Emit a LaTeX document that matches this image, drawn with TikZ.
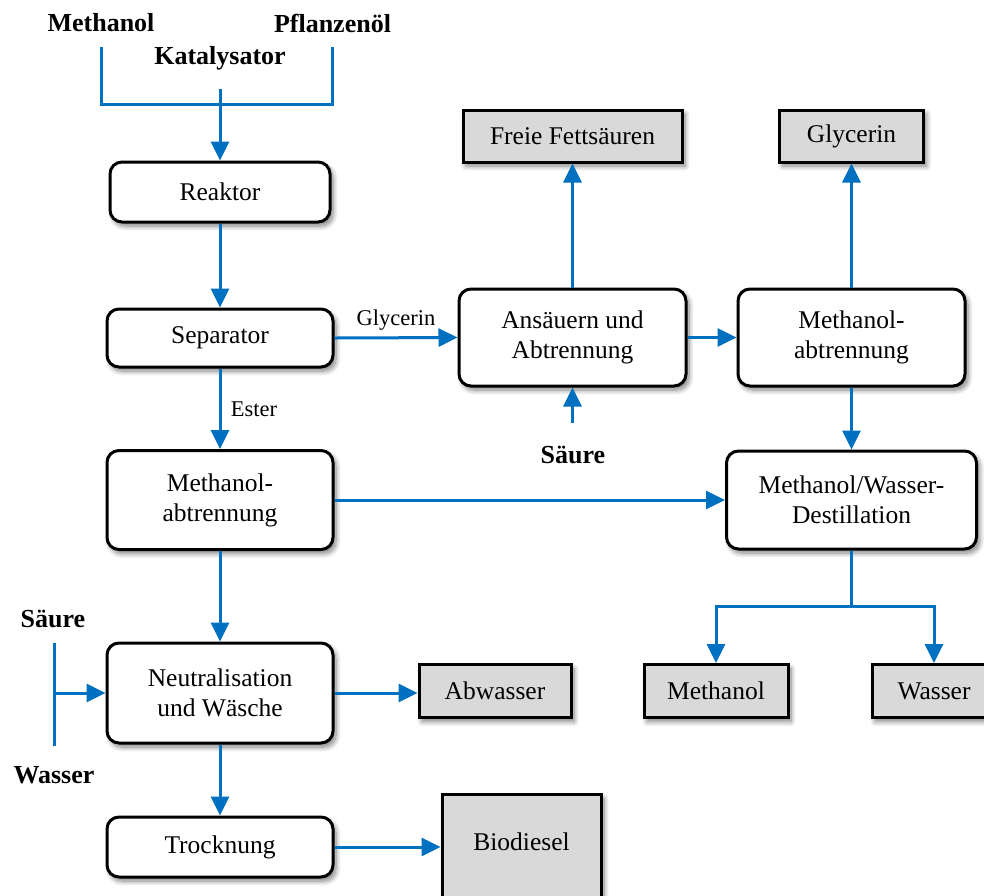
\documentclass[tikz,border=0pt]{standalone}
\usepackage{fontspec}
\setmainfont{Liberation Serif}
\usetikzlibrary{arrows.meta,shadows.blur,calc}
\definecolor{flow}{HTML}{0070C0}
\definecolor{prodgray}{HTML}{D9D9D9}
\begin{document}
\begin{tikzpicture}[x=1pt,y=-1pt,
  boxtext/.style={font=\fontsize{25.5}{30}\selectfont},
  procbox/.style={boxtext,draw=black,line width=3pt,rounded corners=12pt,fill=white,
    align=center,inner sep=0pt,
    blur shadow={shadow xshift=3pt,shadow yshift=-4pt,shadow blur radius=5pt,shadow blur steps=8,shadow opacity=50}},
  prodbox/.style={boxtext,draw=black,line width=3pt,fill=prodgray,align=center,inner sep=0pt,
    blur shadow={shadow xshift=3pt,shadow yshift=-4pt,shadow blur radius=5pt,shadow blur steps=8,shadow opacity=50}},
  feed/.style={font=\fontsize{26}{30}\selectfont\bfseries},
  flowlabel/.style={font=\fontsize{22.5}{26}\selectfont},
  flowline/.style={draw=flow,line width=3pt},
  flowarrow/.style={flowline,-{Triangle[length=19pt,width=18pt]}}
]
\useasboundingbox (0,0) rectangle (984,895);
\begin{scope}
\clip (0,0) rectangle (984,895);
% feeds at top
\node[feed] (fmeth) at (101,23) {Methanol};
\node[feed] (fpfl) at (332.5,23) {Pflanzenöl};
\node[feed] (fkat) at (220,58) {Katalysator};
\coordinate (mtop) at (101,47);
\coordinate (ptop) at (332,47);
\coordinate (ktop) at (220,89);
\coordinate (mbot) at (101,104);
\coordinate (pbot) at (332,104);

% process boxes left column
\node[procbox,minimum width=220,minimum height=60] (reaktor) at (220,192) {Reaktor};
\node[procbox,minimum width=226,minimum height=58] (sep) at (220,338) {Separator};
\node[procbox,minimum width=226,minimum height=99] (mabl) at (220,500) {Methanol-\\abtrennung};
\node[procbox,minimum width=226,minimum height=100] (neut) at (220,693) {Neutralisation\\und Wäsche};
\node[procbox,minimum width=226,minimum height=60] (trock) at (220,847) {Trocknung};

% right column process boxes
\node[procbox,minimum width=227,minimum height=97] (ans) at (572.5,337.5) {Ansäuern und\\Abtrennung};
\node[procbox,minimum width=227,minimum height=97] (mabr) at (851.5,337.5) {Methanol-\\abtrennung};
\node[procbox,minimum width=250,minimum height=98] (dest) at (851.5,500) {Methanol/Wasser-\\Destillation};

% product boxes
\node[prodbox,minimum width=219,minimum height=52] (ffs) at (572.5,136) {Freie Fettsäuren};
\node[prodbox,minimum width=144,minimum height=52] (glyc) at (851.5,136) {Glycerin};
\node[prodbox,minimum width=152,minimum height=53] (abw) at (495,691) {Abwasser};
\node[prodbox,minimum width=144,minimum height=53] (meth) at (716,691) {Methanol};
\node[prodbox,minimum width=124,minimum height=53] (wass) at (934,691) {Wasser};
\node[prodbox,minimum width=159,minimum height=115,anchor=north] (bio) at (521.5,793) {};
\node[boxtext] (biotext) at ($(bio.north)+(0,49)$) {Biodiesel};

% feed lines top
\draw[flowline] (mtop) -- (mbot) -- (pbot) -- (ptop);
\draw[flowarrow] (ktop) -- (reaktor.north);

% left column flow
\draw[flowarrow] (reaktor.south) -- (sep.north);
\draw[flowarrow] (sep.south) -- node[flowlabel,right=6pt] (lester) {Ester} (mabl.north);
\draw[flowarrow] (sep.east) -- node[flowlabel,above=3pt] (lglyc) {Glycerin} (ans.west);
\draw[flowarrow] (mabl.south) -- (neut.north);
\draw[flowarrow] (neut.south) -- (trock.north);
\draw[flowarrow] (mabl.east) -- (mabl.east -| dest.west);
\draw[flowarrow] (neut.east) -- (neut.east -| abw.west);
\draw[flowarrow] (trock.east) -- (trock.east -| bio.west);

% acid / water feed left
\node[feed] (fsl) at (53,619) {Säure};
\node[feed] (fwl) at (54,775) {Wasser};
\coordinate (swtop) at (54,643);
\coordinate (swbot) at (54,746);
\coordinate (swmid) at (54,693);
\draw[flowline] (swtop) -- (swbot);
\draw[flowarrow] (swmid) -- (swmid -| neut.west);

% right flows
\draw[flowarrow] (ans.north) -- (ffs.south);
\draw[flowarrow] (mabr.north) -- (glyc.south);
\draw[flowarrow] (ans.east) -- (mabr.west);
\draw[flowarrow] (mabr.south) -- (dest.north);
\node[feed] (fsr) at (573,455) {Säure};
\coordinate (sra) at (572.5,423);
\draw[flowarrow] (sra) -- (ans.south);

% branch to products
\coordinate (br) at (dest.south |- 0,606);
\coordinate (brl) at (meth.north |- br);
\coordinate (brr) at (wass.north |- br);
\draw[flowline] (dest.south) -- (br);
\draw[flowarrow] (br) -- (brl) -- (meth.north);
\draw[flowarrow] (br) -- (brr) -- (wass.north);
\end{scope}
\end{tikzpicture}
\end{document}
